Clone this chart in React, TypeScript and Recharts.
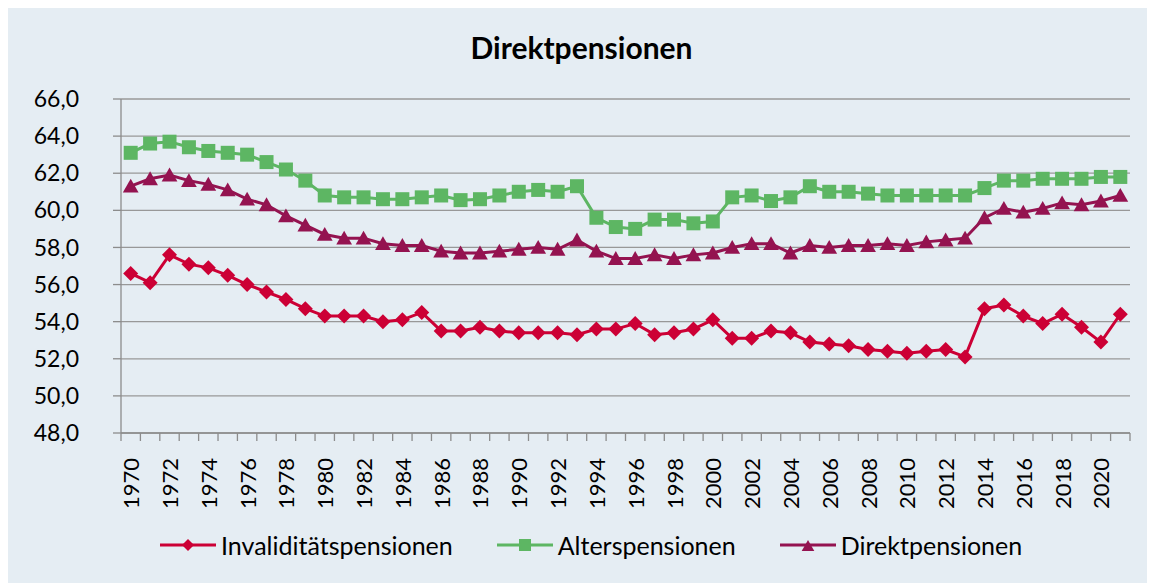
import { CartesianGrid, Line, LineChart, XAxis, YAxis } from "recharts";

const years = [
  1970, 1971, 1972, 1973, 1974, 1975, 1976, 1977, 1978, 1979,
  1980, 1981, 1982, 1983, 1984, 1985, 1986, 1987, 1988, 1989,
  1990, 1991, 1992, 1993, 1994, 1995, 1996, 1997, 1998, 1999,
  2000, 2001, 2002, 2003, 2004, 2005, 2006, 2007, 2008, 2009,
  2010, 2011, 2012, 2013, 2014, 2015, 2016, 2017, 2018, 2019,
  2020, 2021,
];

const invaliditaet = [
  56.6, 56.1, 57.6, 57.1, 56.9, 56.5, 56.0, 55.6, 55.2, 54.7,
  54.3, 54.3, 54.3, 54.0, 54.1, 54.5, 53.5, 53.5, 53.7, 53.5,
  53.4, 53.4, 53.4, 53.3, 53.6, 53.6, 53.9, 53.3, 53.4, 53.6,
  54.1, 53.1, 53.1, 53.5, 53.4, 52.9, 52.8, 52.7, 52.5, 52.4,
  52.3, 52.4, 52.5, 52.1, 54.7, 54.9, 54.3, 53.9, 54.4, 53.7,
  52.9, 54.4,
];

const alters = [
  63.1, 63.6, 63.7, 63.4, 63.2, 63.1, 63.0, 62.6, 62.2, 61.6,
  60.8, 60.7, 60.7, 60.6, 60.6, 60.7, 60.8, 60.55, 60.6, 60.8,
  61.0, 61.1, 61.0, 61.3, 59.6, 59.1, 59.0, 59.5, 59.5, 59.3,
  59.4, 60.7, 60.8, 60.5, 60.7, 61.3, 61.0, 61.0, 60.9, 60.8,
  60.8, 60.8, 60.8, 60.8, 61.2, 61.6, 61.6, 61.7, 61.7, 61.7,
  61.8, 61.8,
];

const direkt = [
  61.3, 61.7, 61.9, 61.6, 61.4, 61.1, 60.6, 60.3, 59.7, 59.2,
  58.7, 58.5, 58.5, 58.2, 58.1, 58.1, 57.8, 57.7, 57.7, 57.8,
  57.9, 58.0, 57.9, 58.4, 57.8, 57.4, 57.4, 57.6, 57.4, 57.6,
  57.7, 58.0, 58.2, 58.2, 57.7, 58.1, 58.0, 58.1, 58.1, 58.2,
  58.1, 58.3, 58.4, 58.5, 59.6, 60.1, 59.9, 60.1, 60.4, 60.3,
  60.5, 60.8,
];

const yTicks = [48, 50, 52, 54, 56, 58, 60, 62, 64, 66];
const labelYears = years.filter((y) => y % 2 === 0);
const bandEdges = [...years.map((y) => y - 0.5), years[years.length - 1] + 0.5];

const data = years.map((year, i) => ({
  year,
  inv: invaliditaet[i],
  alt: alters[i],
  dir: direkt[i],
}));

const RED = "#cc0035";
const GREEN = "#5db663";
const PURPLE = "#941350";
const FONT = "Lato, 'Open Sans', sans-serif";

const diamond = (cx: number, cy: number, s: number) =>
  `M${cx},${cy - s}L${cx + s},${cy}L${cx},${cy + s}L${cx - s},${cy}Z`;
const triangle = (cx: number, cy: number, s: number) =>
  `M${cx},${cy - s}L${cx + s * 1.05},${cy + s * 0.85}L${cx - s * 1.05},${cy + s * 0.85}Z`;

function DiamondDot(p: any) {
  if (p.cx == null || p.cy == null) return <g key={`dd${p.index}`} />;
  return <path key={`dd${p.index}`} d={diamond(p.cx, p.cy, 7.5)} fill={RED} />;
}
function SquareDot(p: any) {
  if (p.cx == null || p.cy == null) return <g key={`sd${p.index}`} />;
  return <rect key={`sd${p.index}`} x={p.cx - 7} y={p.cy - 7} width={14} height={14} fill={GREEN} />;
}
function TriangleDot(p: any) {
  if (p.cx == null || p.cy == null) return <g key={`td${p.index}`} />;
  return <path key={`td${p.index}`} d={triangle(p.cx, p.cy, 7.5)} fill={PURPLE} />;
}

function YearTick(p: any) {
  const { x, y, payload } = p;
  const ty = y + 17;
  return (
    <text
      x={x}
      y={ty}
      transform={`rotate(-90, ${x}, ${ty})`}
      textAnchor="end"
      dominantBaseline="central"
      fontFamily={FONT}
      fontSize={22}
      fill="#000"
    >
      {payload.value}
    </text>
  );
}

const legendItems = [
  { name: "Invaliditätspensionen", color: RED, shape: "diamond" },
  { name: "Alterspensionen", color: GREEN, shape: "square" },
  { name: "Direktpensionen", color: PURPLE, shape: "triangle" },
];

function LegendMarker({ color, shape }: { color: string; shape: string }) {
  return (
    <svg width={56} height={20} style={{ display: "block" }}>
      <line x1={0} y1={10} x2={56} y2={10} stroke={color} strokeWidth={3} />
      {shape === "diamond" && <path d={diamond(28, 10, 6)} fill={color} />}
      {shape === "square" && <rect x={22} y={4} width={12} height={12} fill={color} />}
      {shape === "triangle" && <path d={triangle(28, 11, 6)} fill={color} />}
    </svg>
  );
}

export default function App() {
  return (
    <div
      style={{
        position: "relative",
        margin: "-1px 0 0 -1px",
        width: 1147,
        height: 575,
        background: "#e5edf3",
        borderLeft: "1px solid #a3a3a3",
        borderTop: "1px solid #a3a3a3",
        fontFamily: FONT,
        overflow: "hidden",
      }}
    >
      <div
        style={{
          position: "absolute",
          top: 21,
          left: 0,
          width: 1147,
          textAlign: "center",
          fontWeight: "bold",
          fontSize: 30,
          color: "#000",
        }}
      >
        Direktpensionen
      </div>
      <LineChart
        width={1147}
        height={575}
        data={data}
        margin={{ top: 91, right: 25, bottom: 70, left: 0 }}
      >
        <CartesianGrid horizontal vertical={false} stroke="#989898" strokeWidth={1.3} />
        <XAxis
          xAxisId="edges"
          type="number"
          dataKey="year"
          domain={[bandEdges[0], bandEdges[bandEdges.length - 1]]}
          ticks={bandEdges}
          tickFormatter={() => ""}
          tickSize={8}
          height={8}
          stroke="#8c8c8c"
          strokeWidth={1.3}
          allowDataOverflow
        />
        <XAxis
          xAxisId="labels"
          type="number"
          dataKey="year"
          domain={[bandEdges[0], bandEdges[bandEdges.length - 1]]}
          ticks={labelYears}
          tick={<YearTick />}
          tickSize={0}
          tickMargin={0}
          axisLine={false}
          tickLine={false}
          height={72}
          interval={0}
          allowDataOverflow
        />
        <YAxis
          domain={[48, 66]}
          ticks={yTicks}
          width={113}
          tickSize={8}
          tickMargin={34}
          stroke="#8c8c8c"
          strokeWidth={1.3}
          tick={{ fill: "#000", fontSize: 23, fontFamily: FONT }}
          tickFormatter={(v: number) => v.toFixed(1).replace(".", ",")}
          interval={0}
        />
        <Line
          xAxisId="edges"
          dataKey="inv"
          stroke={RED}
          strokeWidth={3}
          dot={DiamondDot}
          isAnimationActive={false}
        />
        <Line
          xAxisId="edges"
          dataKey="alt"
          stroke={GREEN}
          strokeWidth={3}
          dot={SquareDot}
          isAnimationActive={false}
        />
        <Line
          xAxisId="edges"
          dataKey="dir"
          stroke={PURPLE}
          strokeWidth={3}
          dot={TriangleDot}
          isAnimationActive={false}
        />
      </LineChart>
      <div
        style={{
          position: "absolute",
          top: 522,
          left: 152,
          display: "flex",
          alignItems: "center",
          gap: 44,
        }}
      >
        {legendItems.map((it) => (
          <div key={it.name} style={{ display: "flex", alignItems: "center", gap: 5 }}>
            <LegendMarker color={it.color} shape={it.shape} />
            <span style={{ fontSize: 25, color: "#000" }}>{it.name}</span>
          </div>
        ))}
      </div>
    </div>
  );
}
